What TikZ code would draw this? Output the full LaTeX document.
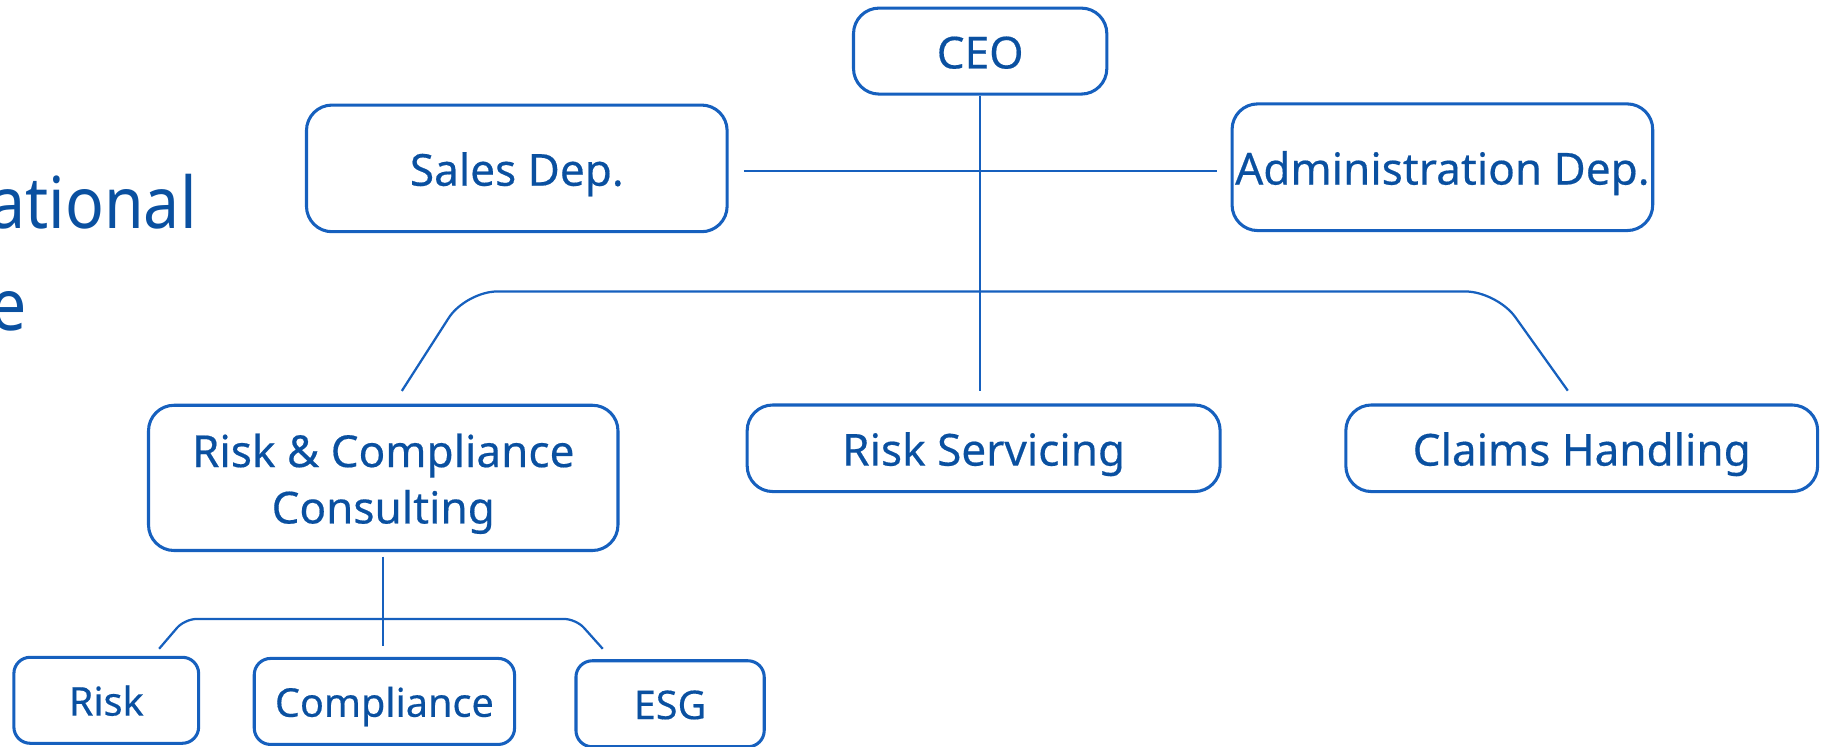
\documentclass[tikz,border=0pt]{standalone}
\usepackage{fontspec}
\setmainfont[FakeBold=0.4]{Noto Sans}
\newfontfamily\titlefont[FakeStretch=0.9]{Noto Sans}
\definecolor{orgtext}{RGB}{10,80,160}
\definecolor{orgline}{RGB}{22,96,190}
\tikzset{
    orgbox/.style = {draw=orgline, line width=0.75pt, rounded corners=0.22cm, text=orgtext,
        font=\fontsize{10.8}{13.8}\selectfont, inner sep=0pt, text height=8.5pt, text depth=0pt, align=center},
    subbox/.style = {orgbox, rounded corners=0.14cm, font=\fontsize{9.7}{12}\selectfont, text height=7.5pt},
    link/.style = {draw=orgline, line width=0.55pt}
}

\begin{document}
\begin{tikzpicture}[x=0.01cm, y=-0.01cm]
        \useasboundingbox (0, 0) rectangle (1568, 643);
        % title, cut off at the left edge
        \node[anchor=base east, inner sep=0pt, text=orgtext, font=\titlefont\fontsize{17.5}{21}\selectfont] (title_a) at (170, 197) {ational};
        \node[anchor=base east, inner sep=0pt, text=orgtext, font=\titlefont\fontsize{17.5}{21}\selectfont] (title_b) at (24, 285) {e};
        % top level and departments
        \node[orgbox, minimum width=2.18cm, minimum height=0.74cm] (ceo) at (844, 44) {CEO};
        \node[orgbox, minimum width=3.62cm, minimum height=1.09cm] (sales) at (445, 145) {Sales Dep.};
        \node[orgbox, minimum width=3.62cm, minimum height=1.09cm] (admin) at (1242, 144) {Administration Dep.};
        % second row
        \node[orgbox, minimum width=4.04cm, minimum height=1.25cm, text height=22.3pt] (rcc) at (330, 411.5) {Risk \& Compliance\\Consulting};
        \node[orgbox, minimum width=4.07cm, minimum height=0.745cm] (servicing) at (847, 386) {Risk Servicing};
        \node[orgbox, minimum width=4.06cm, minimum height=0.745cm] (claims) at (1362, 386) {Claims Handling};
        % third row
        \node[subbox, minimum width=1.59cm, minimum height=0.74cm] (risk) at (91.5, 603) {Risk};
        \node[subbox, minimum width=2.24cm, minimum height=0.74cm] (compliance) at (331, 604) {Compliance};
        \node[subbox, minimum width=1.62cm, minimum height=0.74cm] (esg) at (577, 606) {ESG};
        % ceo line and the line between the departments
        \draw[link, shorten >=0.11cm] (ceo.south) -- (ceo.south |- servicing.north);
        \draw[link, shorten <=0.13cm, shorten >=0.12cm] ([yshift=-0.7pt]sales.east) -- ([yshift=-0.7pt]sales.east -| admin.west);
        % branch to the second row
        \draw[link, rounded corners=0.27cm] ([shift={(16,-11)}]rcc.north) -- (401, 251) -- (1289, 251) -- ([shift={(-12,-11)}]claims.north);
        % branch to the third row
        \draw[link, shorten <=0.04cm, shorten >=0.09cm] (rcc.south) -- (rcc.south |- compliance.north);
        \draw[link, rounded corners=0.1cm] ([shift={(45.5,-6)}]risk.north) -- (159, 533) -- (496, 533) -- ([shift={(-58,-9)}]esg.north);
\end{tikzpicture}
\end{document}
